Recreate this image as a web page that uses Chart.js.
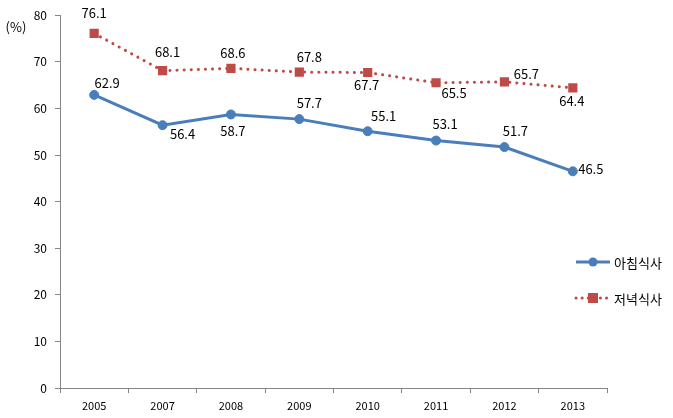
<!DOCTYPE html>
<html><head><meta charset="utf-8">
<script src="https://cdn.jsdelivr.net/npm/chart.js@4/dist/chart.umd.min.js"></script>
<style>html,body{margin:0;padding:0;background:#fff}#w{width:673px;height:418px}</style>
</head><body><div id="w"><canvas id="c" width="673" height="418"></canvas></div>
<script>
const categories = ['2005','2007','2008','2009','2010','2011','2012','2013'];
const breakfast = [62.9,56.4,58.7,57.7,55.1,53.1,51.7,46.5];
const dinner = [76.1,68.1,68.6,67.8,67.7,65.5,65.7,64.4];
const seriesNames = ['아침식사','저녁식사'];
const yTicks = [0,10,20,30,40,50,60,70,80];

// label offsets (dx, dy) relative to the point
const blueOff = [[13,-12],[20,9],[2,17],[10,-16],[16,-15],[9,-16],[11,-16],[18,-2]];
const redOff = [[0,-20],[5,-19],[2,-15],[10,-15],[-1,13],[18,10],[22,-8],[-1,13]];

const FONT = '"Noto Sans CJK KR","Liberation Sans",sans-serif';
const labelPlugin = {
  id:'labels',
  afterDatasetsDraw(chart){
    const ctx = chart.ctx;
    ctx.save();
    ctx.font = '13px ' + FONT;
    ctx.fillStyle = '#000';
    ctx.textAlign='center'; ctx.textBaseline='middle';
    const offs=[blueOff, redOff];
    chart.data.datasets.forEach((ds,i)=>{
      const meta = chart.getDatasetMeta(i);
      meta.data.forEach((pt,j)=>{
        const o = offs[i][j];
        ctx.fillText(ds.data[j].toFixed(1), pt.x+o[0], pt.y+o[1]);
      });
    });
    // (%) unit
    ctx.font = '13px ' + FONT;
    ctx.fillText('(%)', 16, 27);
    // legend
    const items=[{y:262},{y:298}];
    chart.data.datasets.forEach((ds,i)=>{
      const y = items[i].y, x0=576, x1=610, xm=593;
      ctx.strokeStyle = ds.borderColor; ctx.lineWidth = 3;
      ctx.lineCap = i===1?'round':'butt';
      ctx.setLineDash(i===1?[0.1,6]:[]);
      ctx.beginPath(); ctx.moveTo(x0,y); ctx.lineTo(x1,y); ctx.stroke();
      ctx.setLineDash([]);
      ctx.fillStyle = ds.borderColor;
      if(i===0){ ctx.beginPath(); ctx.arc(xm,y,4.5,0,Math.PI*2); ctx.fill(); }
      else { ctx.fillRect(xm-5,y-5,10,10); }
      ctx.fillStyle='#000'; ctx.textAlign='left';
      ctx.font = '13px ' + FONT;
      ctx.fillText(ds.label, 614, y+1);
    });
    ctx.restore();
  }
};

new Chart(document.getElementById('c'),{
  type:'line',
  data:{labels:categories,datasets:[
    {label:seriesNames[0],data:breakfast,borderColor:'#4A7EBB',backgroundColor:'#4A7EBB',borderWidth:3,
     pointStyle:'circle',pointRadius:4.5,pointBorderWidth:1,pointBackgroundColor:'#4A7EBB',pointBorderColor:'#4A7EBB',tension:0},
    {label:seriesNames[1],data:dinner,borderColor:'#BE4B48',backgroundColor:'#BE4B48',borderWidth:3,
     borderDash:[0.1,7],borderCapStyle:'round',
     pointStyle:'rect',pointRadius:6.5,pointBorderWidth:0,pointBackgroundColor:'#BE4B48',pointBorderColor:'#BE4B48',tension:0}
  ]},
  options:{
    responsive:false,animation:false,
    layout:{padding:{left:0,right:66,top:12,bottom:0}},
    plugins:{legend:{display:false},tooltip:{enabled:false}},
    scales:{
      x:{offset:true,
        grid:{offset:true,drawOnChartArea:false,drawTicks:true,tickLength:5,color:'#868686'},
        border:{color:'#868686',width:1},
        ticks:{color:'#000',font:{family:FONT,size:11},padding:6,maxRotation:0},
        afterFit(s){s.height=30;}
      },
      y:{min:0,max:80,
        afterBuildTicks(s){s.ticks=yTicks.map(v=>({value:v}));},
        grid:{drawOnChartArea:false,drawTicks:true,tickLength:5,color:'#868686'},
        border:{color:'#868686',width:1},
        ticks:{color:'#000',font:{family:FONT,size:12},padding:8},
        afterFit(s){s.width=60;}
      }
    }
  },
  plugins:[labelPlugin]
});
</script></body></html>
